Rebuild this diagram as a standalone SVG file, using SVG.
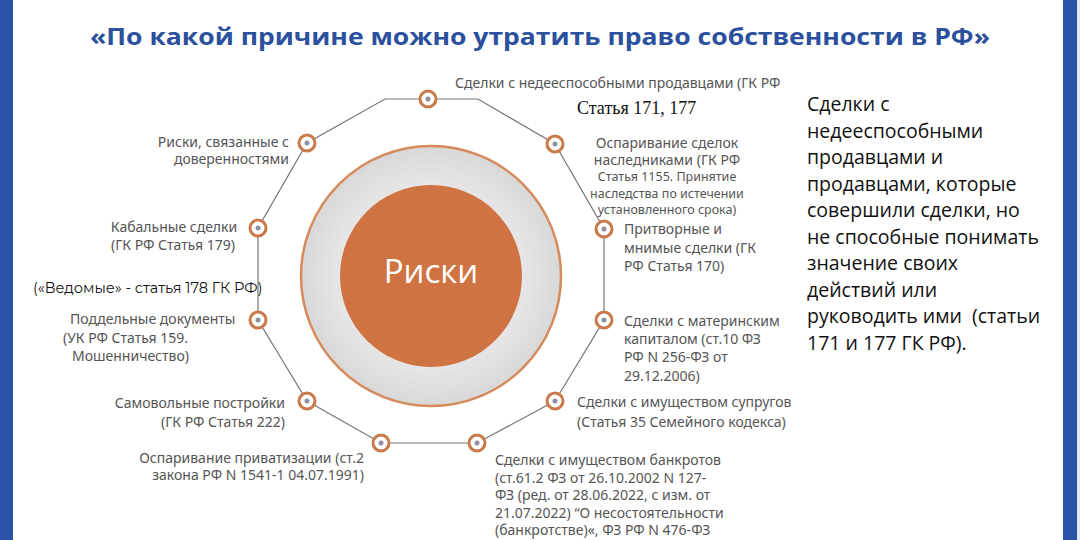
<svg xmlns="http://www.w3.org/2000/svg" width="1080" height="540" viewBox="0 0 1080 540">
<style>
.lbl{font-family:"Noto Sans","DejaVu Sans",sans-serif;font-size:14px;fill:#555}
.sm{font-size:12.5px}
.blk{font-family:"Montserrat","Open Sans","Noto Sans",sans-serif;fill:#111}
.title{font-family:"Open Sans","Noto Sans",sans-serif;font-weight:700;font-size:23px;fill:#2b509e}
.rt{font-family:"Open Sans","Noto Sans",sans-serif;font-size:19.5px;fill:#111}
.ring{fill:#fff;stroke:#c97a4a;stroke-width:3}
.dot{fill:#8c90a0}
</style>
<defs>
<radialGradient id="g" cx="0.5" cy="0.5" r="0.5">
<stop offset="0.7" stop-color="#e6e6e6"/>
<stop offset="1" stop-color="#d8d8d8"/>
</radialGradient>
<g id="n"><circle r="8" class="ring"/><circle r="2.5" class="dot"/></g>
</defs>
<rect width="1080" height="540" fill="#fff"/>
<rect x="0" y="0" width="13" height="540" fill="#2a52a8"/>
<rect x="1063" y="0" width="14" height="540" fill="#2a52a8"/>
<rect x="1077" y="0" width="3" height="540" fill="#dfe6f2"/>
<text class="title" x="540" y="45" text-anchor="middle" textLength="900" lengthAdjust="spacingAndGlyphs">«По какой причине можно утратить право собственности в РФ»</text>

<g id="connectors">
<polygon points="385,99 478,99 555,144 604,229 604,320 555,401 477,443 381,443 307,401 258,320 258,228 307,143" fill="none" stroke="#777" stroke-width="1.2"/>
</g>

<g id="center">
<circle cx="431" cy="276" r="130" fill="url(#g)" stroke="#d68a5c" stroke-width="2.5"/>
<circle cx="431" cy="276" r="91" fill="#cf7342"/>
<text x="431" y="283" text-anchor="middle" font-family="Open Sans,Noto Sans,sans-serif" font-size="33" fill="#fff">Риски</text>
</g>

<g id="node-top"><use href="#n" x="428" y="99"/>
<text class="lbl" x="455" y="88">Сделки с недееспособными продавцами (ГК РФ</text>
<text x="577" y="114" font-family="Liberation Serif,DejaVu Serif,serif" font-size="18" fill="#111">Статья 171, 177</text></g>

<g id="node-inherit"><use href="#n" x="555" y="144"/>
<text class="lbl" text-anchor="middle" x="667"><tspan x="667" y="148">Оспаривание сделок</tspan><tspan x="667" y="165">наследниками (ГК РФ</tspan><tspan class="sm" x="667" y="181">Статья 1155. Принятие</tspan><tspan class="sm" x="667" y="198">наследства по истечении</tspan><tspan class="sm" x="667" y="214">установленного срока)</tspan></text></g>

<g id="node-sham"><use href="#n" x="604" y="229"/>
<text class="lbl"><tspan x="624" y="234">Притворные и</tspan><tspan x="624" y="253">мнимые сделки (ГК</tspan><tspan x="624" y="271">РФ Статья 170)</tspan></text></g>

<g id="node-matcap"><use href="#n" x="604" y="320"/>
<text class="lbl"><tspan x="624" y="326">Сделки с материнским</tspan><tspan x="624" y="344">капиталом (ст.10 ФЗ</tspan><tspan x="624" y="362">РФ N 256-ФЗ от</tspan><tspan x="624" y="381">29.12.2006)</tspan></text></g>

<g id="node-spouse"><use href="#n" x="555" y="401"/>
<text class="lbl"><tspan x="577" y="407">Сделки с имуществом супругов</tspan><tspan x="577" y="427">(Статья 35 Семейного кодекса)</tspan></text></g>

<g id="node-bankrupt"><use href="#n" x="477" y="443"/>
<text class="lbl"><tspan x="495" y="465">Сделки с имуществом банкротов</tspan><tspan x="495" y="483">(ст.61.2 ФЗ от 26.10.2002 N 127-</tspan><tspan x="495" y="500">ФЗ (ред. от 28.06.2022, с изм. от</tspan><tspan x="495" y="518">21.07.2022) “О несостоятельности</tspan><tspan x="495" y="535">(банкротстве)«, ФЗ РФ N 476-ФЗ</tspan></text></g>

<g id="node-privat"><use href="#n" x="381" y="443"/>
<text class="lbl" text-anchor="end"><tspan x="364" y="463">Оспаривание приватизации (ст.2</tspan><tspan x="364" y="480">закона РФ N 1541-1 04.07.1991)</tspan></text></g>

<g id="node-selfbuild"><use href="#n" x="307" y="401"/>
<text class="lbl" text-anchor="end"><tspan x="285" y="408">Самовольные постройки</tspan><tspan x="285" y="427">(ГК РФ Статья 222)</tspan></text></g>

<g id="node-forged"><use href="#n" x="258" y="320"/>
<text class="lbl"><tspan x="70" y="324">Поддельные документы</tspan><tspan x="63" y="343">(УК РФ Статья 159.</tspan><tspan x="72" y="361">Мошенничество)</tspan></text></g>

<g id="node-vedomye">
<text class="blk" x="33" y="293" font-size="14.5">(«Ведомые» - статья 178 ГК РФ)</text></g>

<g id="node-kabal"><use href="#n" x="258" y="228"/>
<text class="lbl" text-anchor="middle"><tspan x="174" y="232">Кабальные сделки</tspan><tspan x="173" y="250">(ГК РФ Статья 179)</tspan></text></g>

<g id="node-power"><use href="#n" x="307" y="143"/>
<text class="lbl" text-anchor="end"><tspan x="289" y="147">Риски, связанные с</tspan><tspan x="289" y="164">доверенностями</tspan></text></g>

<g id="note">
<text class="rt" xml:space="preserve"><tspan x="807" y="111">Сделки с</tspan><tspan x="807" y="137.5">недееспособными</tspan><tspan x="807" y="164">продавцами и</tspan><tspan x="807" y="190.5">продавцами, которые</tspan><tspan x="807" y="217">совершили сделки, но</tspan><tspan x="807" y="243.5">не способные понимать</tspan><tspan x="807" y="270">значение своих</tspan><tspan x="807" y="296.5">действий или</tspan><tspan x="807" y="323">руководить ими  (статьи</tspan><tspan x="807" y="349.5">171 и 177 ГК РФ).</tspan></text>
</g>
</svg>
